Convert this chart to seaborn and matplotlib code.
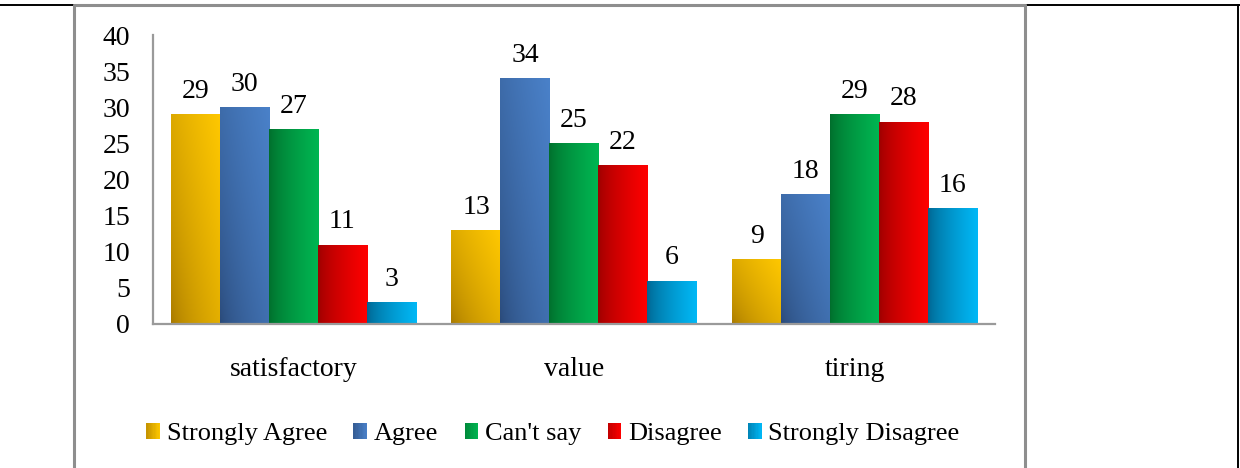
import numpy as np
import pandas as pd
import matplotlib
matplotlib.use("Agg")
import matplotlib.pyplot as plt
from matplotlib.colors import to_rgb
from matplotlib.lines import Line2D
from matplotlib.patches import Rectangle
from matplotlib.legend_handler import HandlerBase
import seaborn as sns

# ---- data -------------------------------------------------------------
aspects = ["satisfactory", "value", "tiring"]
responses = ["Strongly Agree", "Agree", "Can't say", "Disagree", "Strongly Disagree"]
strongly_agree = [29, 13, 9]
agree = [30, 34, 18]
cant_say = [27, 25, 29]
disagree = [11, 22, 28]
strongly_disagree = [3, 6, 16]
y_ticks = [0, 5, 10, 15, 20, 25, 30, 35, 40]

series = [strongly_agree, agree, cant_say, disagree, strongly_disagree]
df = pd.DataFrame(
    [(a, r, v[i]) for r, v in zip(responses, series) for i, a in enumerate(aspects)],
    columns=["aspect", "response", "count"],
)

# dark end, bright end, diagonal shading?
shades = {
    "Strongly Agree": ("#a47600", "#ffc800", True),
    "Agree": ("#294876", "#4a81c9", True),
    "Can't say": ("#006e2c", "#00b652", False),
    "Disagree": ("#9c0000", "#ff0000", False),
    "Strongly Disagree": ("#006590", "#00b8f6", False),
}
palette = {r: shades[r][1] for r in responses}

sns.set_theme(style="white")
plt.rcParams["font.family"] = ["Liberation Serif", "DejaVu Serif"]
plt.rcParams["text.color"] = "black"
FS = 20
LEG_FS = 19

fig = plt.figure(figsize=(12.4, 4.68), dpi=100)
ax = fig.add_axes([0.1234, 0.3077, 0.8024 - 0.1234, 0.9252 - 0.3077])

sns.barplot(data=df, x="aspect", y="count", hue="response", order=aspects,
            hue_order=responses, palette=palette, width=0.873, gap=0,
            saturation=1, legend=False, ax=ax, linewidth=0)

ax.set_ylim(0, 40)
ax.set_xlim(-0.5, len(aspects) - 0.5)
xl, yl = ax.get_xlim(), ax.get_ylim()


def gradient_for(dark, light, diagonal, n=64):
    d, l = np.array(to_rgb(dark)), np.array(to_rgb(light))
    u = np.linspace(0, 1, n)[None, :]
    v = np.linspace(0, 1, n)[:, None]
    if diagonal:
        t = np.clip(0.55 * u + 0.45 * v, 0, 1) ** 0.6
    else:
        t = (u ** 0.7) * np.ones_like(v)
    return d + (l - d) * t[..., None]


for resp, cont in zip(responses, ax.containers):
    dark, light, diag = shades[resp]
    img = gradient_for(dark, light, diag)
    for bar in cont:
        x0, y0 = bar.get_xy()
        w, h = bar.get_width(), bar.get_height()
        im = ax.imshow(img, extent=[x0, x0 + w, y0, y0 + h], origin="lower",
                       aspect="auto", interpolation="bilinear",
                       zorder=bar.get_zorder() + 0.1)
        im.set_clip_path(bar)
    ax.bar_label(cont, fontsize=FS, padding=7.5, color="black")

ax.set_xlim(xl)
ax.set_ylim(yl)
ax.set_aspect("auto")

ax.set_yticks(y_ticks)
ax.set_yticklabels([str(t) for t in y_ticks])
ax.tick_params(axis="y", length=0, pad=16.5, labelsize=FS, labelcolor="black")
ax.tick_params(axis="x", length=0, pad=23.5, labelsize=FS, labelcolor="black")
ax.set_xlabel("")
ax.set_ylabel("")
for side in ("top", "right"):
    ax.spines[side].set_visible(False)
for side in ("left", "bottom"):
    ax.spines[side].set_color("#9a9a9a")
    ax.spines[side].set_linewidth(1.6)


class GradientSwatch(HandlerBase):
    def __init__(self, dark, light, strips=10):
        super().__init__()
        self.dark, self.light, self.strips = np.array(to_rgb(dark)), np.array(to_rgb(light)), strips

    def create_artists(self, legend, orig_handle, xdescent, ydescent,
                       width, height, fontsize, trans):
        arts = []
        sw = width / self.strips
        for k in range(self.strips):
            t = 0.35 + 0.65 * (k + 0.5) / self.strips
            c = self.dark + (self.light - self.dark) * t
            arts.append(Rectangle((-xdescent + k * sw, -ydescent), sw * 1.05, height,
                                  facecolor=c, edgecolor="none", transform=trans))
        return arts


handles = [cont.patches[0] for cont in ax.containers]
hmap = {h: GradientSwatch(shades[r][0], shades[r][1]) for h, r in zip(handles, responses)}
fig.legend(handles, responses, handler_map=hmap, loc="center",
           bbox_to_anchor=(0.446, 0.072), ncol=5, frameon=False, fontsize=LEG_FS,
           handlelength=0.52, handleheight=0.52, handletextpad=0.25,
           columnspacing=1.0, borderaxespad=0, labelcolor="black")

# surrounding frame lines
gray = "#8e8e8e"
ytop = 1 - 4.5 / 468
fig.add_artist(Line2D([0, 1], [ytop, ytop], color="black", lw=1.4))
fig.add_artist(Line2D([1238 / 1240, 1238 / 1240], [0, ytop], color="black", lw=1.4))
fig.add_artist(Line2D([73.5 / 1240, 1024.5 / 1240], [ytop, ytop], color=gray, lw=2.2))
fig.add_artist(Line2D([73.5 / 1240, 73.5 / 1240], [0, ytop], color=gray, lw=2.2))
fig.add_artist(Line2D([1024.5 / 1240, 1024.5 / 1240], [0, ytop], color=gray, lw=2.2))

fig.savefig("out.png", dpi=100, facecolor="white")
